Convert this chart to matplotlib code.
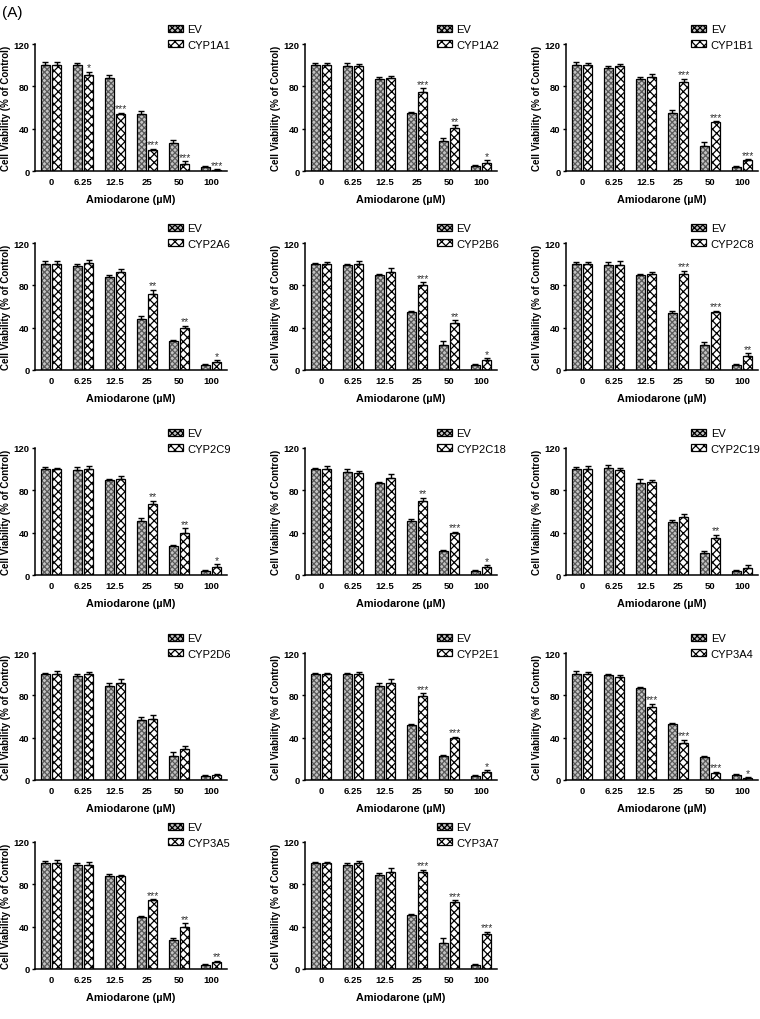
import matplotlib
matplotlib.use("Agg")
import matplotlib.pyplot as plt
import numpy as np

plt.rcParams["font.family"] = ["Liberation Sans", "DejaVu Sans"]
plt.rcParams["hatch.linewidth"] = 0.9

doses = ["0", "6.25", "12.5", "25", "50", "100"]
cyp_names = ["CYP1A1", "CYP1A2", "CYP1B1", "CYP2A6", "CYP2B6", "CYP2C8", "CYP2C9",
             "CYP2C18", "CYP2C19", "CYP2D6", "CYP2E1", "CYP3A4", "CYP3A5", "CYP3A7"]

ev_vals = [
    [100, 100, 88, 54, 26, 4],
    [100, 99, 87, 55, 28, 5],
    [100, 97, 87, 55, 24, 4],
    [100, 98, 88, 48, 27, 5],
    [100, 99, 90, 55, 24, 5],
    [100, 99, 90, 54, 24, 5],
    [100, 99, 90, 51, 27, 4],
    [100, 97, 87, 51, 23, 4],
    [100, 101, 87, 50, 21, 4],
    [100, 98, 89, 57, 23, 4],
    [100, 100, 89, 52, 23, 4],
    [100, 99, 87, 53, 22, 5],
    [100, 98, 88, 49, 27, 4],
    [100, 98, 89, 51, 25, 4],
]
cyp_vals = [
    [100, 91, 54, 20, 7, 1],
    [100, 99, 88, 75, 41, 8],
    [100, 99, 89, 84, 46, 10],
    [100, 101, 93, 72, 40, 8],
    [100, 100, 93, 80, 44, 9],
    [100, 99, 91, 91, 55, 13],
    [100, 100, 91, 67, 40, 8],
    [100, 96, 92, 70, 40, 8],
    [100, 99, 88, 55, 35, 7],
    [100, 100, 92, 58, 29, 5],
    [100, 100, 92, 79, 40, 8],
    [100, 97, 69, 35, 7, 2],
    [100, 98, 88, 65, 40, 7],
    [100, 100, 92, 92, 63, 33],
]
ev_err = [
    [3, 2, 3, 3, 3, 0.5],
    [2, 3, 2, 1, 3, 0.8],
    [3, 2, 2, 3, 3, 0.5],
    [3, 2, 2, 3, 1, 0.5],
    [1, 1, 1, 1, 3, 0.5],
    [2, 3, 1, 2, 2, 0.5],
    [2, 3, 1, 3, 1, 0.5],
    [1, 3, 1, 2, 1, 0.5],
    [2, 3, 4, 2, 2, 0.5],
    [1, 2, 3, 3, 3, 0.5],
    [1, 1, 3, 1, 1, 0.5],
    [3, 1, 1, 1, 1, 1],
    [2, 2, 2, 1, 2, 1],
    [1, 2, 2, 1, 4, 1],
]
cyp_err = [
    [3, 3, 1, 1, 2, 0.5],
    [2, 2, 2, 3, 2, 2],
    [2, 2, 3, 3, 1, 1],
    [3, 3, 2, 4, 2, 1],
    [2, 3, 3, 3, 3, 2],
    [2, 4, 2, 3, 1, 3],
    [1, 3, 3, 3, 4, 2],
    [3, 2, 3, 3, 1, 1],
    [3, 2, 2, 3, 3, 2],
    [3, 2, 3, 3, 3, 1],
    [1, 2, 3, 3, 1, 1],
    [2, 2, 3, 3, 1, 0.5],
    [3, 3, 1, 1, 3, 1],
    [1, 2, 3, 2, 2, 2],
]
stars = [
    ["", "*", "***", "***", "***", "***"],
    ["", "", "", "***", "**", "*"],
    ["", "", "", "***", "***", "***"],
    ["", "", "", "**", "**", "*"],
    ["", "", "", "***", "**", "*"],
    ["", "", "", "***", "***", "**"],
    ["", "", "", "**", "**", "*"],
    ["", "", "", "**", "***", "*"],
    ["", "", "", "", "**", ""],
    ["", "", "", "", "", ""],
    ["", "", "", "***", "***", "*"],
    ["", "", "***", "***", "***", "*"],
    ["", "", "", "***", "**", "**"],
    ["", "", "", "***", "***", "***"],
]

W, H = 760, 1020
col_left = [35, 305, 566]
row_top = [45, 244, 449, 654, 843]
legend_x = [0.67, 0.665, 0.63]
ax_w, ax_h = 192, 127


def draw_panel(ax, i, col):
    x = np.arange(len(doses))
    bw = 0.28
    off = 0.185
    ev = np.array(ev_vals[i])
    cy = np.array(cyp_vals[i])
    ee = np.array(ev_err[i])
    ce = np.array(cyp_err[i])

    # EV: grey fill, fine grey texture, black outline drawn on top
    ax.bar(x - off, ev, bw, color="#c4c4c4", edgecolor="#5a5a5a", hatch="xxxxxx",
           linewidth=0, zorder=2)
    ax.bar(x - off, ev, bw, color="none", edgecolor="black", linewidth=0.9, zorder=2.1)
    # CYP: black/white checker
    ax.bar(x + off, cy, bw, color="white", edgecolor="black", hatch="xxxx",
           linewidth=0.9, zorder=2)

    ax.errorbar(x - off, ev, yerr=[np.zeros_like(ee), ee], fmt="none",
                ecolor="black", elinewidth=1.0, capsize=2.2, capthick=1.0, zorder=3)
    ax.errorbar(x + off, cy, yerr=[np.zeros_like(ce), ce], fmt="none",
                ecolor="black", elinewidth=1.0, capsize=2.2, capthick=1.0, zorder=3)
    for j, s in enumerate(stars[i]):
        if s:
            ax.text(x[j] + off, cy[j] + ce[j] - 0.5, s, ha="center", va="bottom",
                    fontsize=7.5, color="#333333")

    ax.set_xlim(-0.5, 5.5)
    ax.set_ylim(0, 120)
    ax.set_yticks([0, 40, 80, 120])
    ax.set_xticks(x)
    ax.set_xticklabels(doses, fontsize=6.8, fontweight="bold")
    for lab in ax.get_yticklabels():
        lab.set_fontsize(6.8)
        lab.set_fontweight("bold")
    ax.tick_params(axis="x", length=0, pad=4)
    ax.tick_params(axis="y", length=2.5, width=1.0, pad=1.5, direction="out")
    ax.spines["right"].set_visible(False)
    ax.spines["top"].set_visible(False)
    ax.spines["left"].set_linewidth(1.1)
    ax.spines["bottom"].set_linewidth(1.1)
    ax.set_xlabel("Amiodarone (\u00b5M)", fontsize=7.8, fontweight="bold", labelpad=6)
    ax.set_ylabel("Cell Viability (% of Control)", fontsize=7, fontweight="bold", labelpad=2)

    h_ev = plt.Rectangle((0, 0), 1, 1, facecolor="#c4c4c4", edgecolor="black",
                         hatch="xxxxxx", linewidth=0.9)
    h_cy = plt.Rectangle((0, 0), 1, 1, facecolor="white", edgecolor="black",
                         hatch="xxxx", linewidth=0.9)
    ax.legend([h_ev, h_cy], ["EV", cyp_names[i]], loc="upper left",
              bbox_to_anchor=(legend_x[col], 1.19), frameon=False,
              fontsize=8, handlelength=1.3, handleheight=0.6, labelspacing=0.5,
              handletextpad=0.45, borderaxespad=0)


def main():
    fig = plt.figure(figsize=(W / 100, H / 100), dpi=100)
    for i in range(len(cyp_names)):
        r, c = divmod(i, 3)
        left = col_left[c] / W
        bottom = 1 - (row_top[r] + ax_h) / H
        ax = fig.add_axes([left, bottom, ax_w / W, ax_h / H])
        draw_panel(ax, i, c)
    fig.text(2 / W, 1 - 13 / H, "(A)", fontsize=11, va="center", ha="left")
    fig.savefig("out.png", dpi=100)


if __name__ == "__main__":
    main()
